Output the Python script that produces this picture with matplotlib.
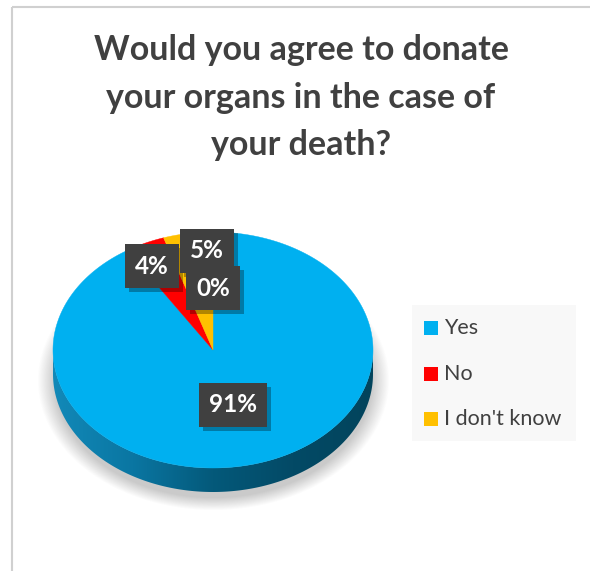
import numpy as np
import matplotlib
matplotlib.use("Agg")
import matplotlib.pyplot as plt
from matplotlib.patches import Polygon, Rectangle
from matplotlib.colors import LinearSegmentedColormap
import matplotlib.patheffects as pe

# ---- data ----
categories = ["Yes", "No", "I don't know", ""]
values = [91, 4, 5, 0]
colors = ["#00b0f0", "#ff0000", "#ffc000", "#7f7f7f"]
title_lines = ["Would you agree to donate", "your organs in the case of", "your death?"]

# ---- layout (pixel space) ----
W, H = 590, 571
cx, cy = 213, 350          # centre of top face
rx, ry = 160, 118          # radii of top face
depth = 24                 # thickness of the disc
label_pos = [(233, 405), (152, 266), (207, 251), (213, 288)]

fig = plt.figure(figsize=(W / 100, H / 100), dpi=100)
ax = fig.add_axes([0, 0, 1, 1])
ax.set_xlim(0, W)
ax.set_ylim(H, 0)
ax.axis("off")

# chart frame
ax.add_patch(Rectangle((12, 7), 600, 600, fill=False, ec="#d0d0d0", lw=1.5, zorder=0))

# title
for i, line in enumerate(title_lines):
    ax.text(301, 50 + i * 47.5, line, ha="center", va="center", fontsize=24.5,
            fontweight="bold", color="#404040", family="Lato")


def rim(theta_deg, yoff=0.0):
    t = np.radians(theta_deg)
    return cx + rx * np.sin(t), cy - ry * np.cos(t) + yoff


# soft shadow beneath the disc
gx, gy = np.meshgrid(np.arange(0, 420), np.arange(200, 540))
d = np.sqrt(((gx - cx) / (rx + 16)) ** 2 + ((gy - (cy + 30)) / (ry + 12)) ** 2)
alpha = np.clip((1.0 - d) / 0.1, 0, 1) * 0.32
shadow = np.zeros(gx.shape + (4,))
shadow[..., :3] = 0.35
shadow[..., 3] = alpha
ax.imshow(shadow, extent=(0, 420, 540, 200), zorder=1, interpolation="bilinear")

# side band of the disc (front half), shaded with a horizontal gradient
th = np.linspace(90, 270, 200)
top_x, top_y = rim(th)
bot_x, bot_y = rim(th[::-1], depth)
side = Polygon(np.column_stack([np.r_[top_x, bot_x], np.r_[top_y, bot_y]]),
               closed=True, fc="none", ec="none", zorder=2)
ax.add_patch(side)
side_cmap = LinearSegmentedColormap.from_list(
    "side", ["#1289b8", "#0a76a2", "#04597a", "#034a66", "#02445c"])
grad = np.linspace(0, 1, 256)[None, :]
im = ax.imshow(grad, cmap=side_cmap, extent=(cx - rx, cx + rx, cy + depth + ry + 2, cy - 2),
               aspect="auto", zorder=2)
im.set_clip_path(side)

# top face wedges, clockwise from 12 o'clock
total = float(sum(values))
start = 0.0
for v, c in zip(values, colors):
    span = 360.0 * v / total
    if span > 0:
        th = np.linspace(start, start + span, max(int(span * 2), 2))
        px, py = rim(th)
        ax.add_patch(Polygon(np.column_stack([np.r_[cx, px], np.r_[cy, py]]),
                             closed=True, fc=c, ec=c, lw=0.3, zorder=3))
    start += span

# data labels: dark boxes with a small drop shadow
for k, (v, (lx, ly)) in enumerate(zip(values, label_pos)):
    t = ax.text(lx, ly, f"{v}%", ha="center", va="center", fontsize=17.5,
                fontweight="bold", family="Lato", color="white",
                bbox=dict(boxstyle="square,pad=0.42", fc="#404040", ec="none"),
                zorder=5 + k)
    t.get_bbox_patch().set_path_effects(
        [pe.SimplePatchShadow(offset=(3, -3), shadow_rgbFace="black", alpha=0.3),
         pe.Normal()])

# legend
ax.add_patch(Rectangle((412, 305), 164, 136, fc="#f8f8f8", ec="none", zorder=1))
for i, (cat, c) in enumerate(zip(categories[:3], colors[:3])):
    yy = 328 + i * 45.5
    ax.add_patch(Rectangle((424, yy - 7), 14, 14, fc=c, ec="none", zorder=3))
    ax.text(444, yy, cat, ha="left", va="center", fontsize=15.5, color="#404040",
            family="Lato", zorder=3)

fig.savefig("out.png", dpi=100)
